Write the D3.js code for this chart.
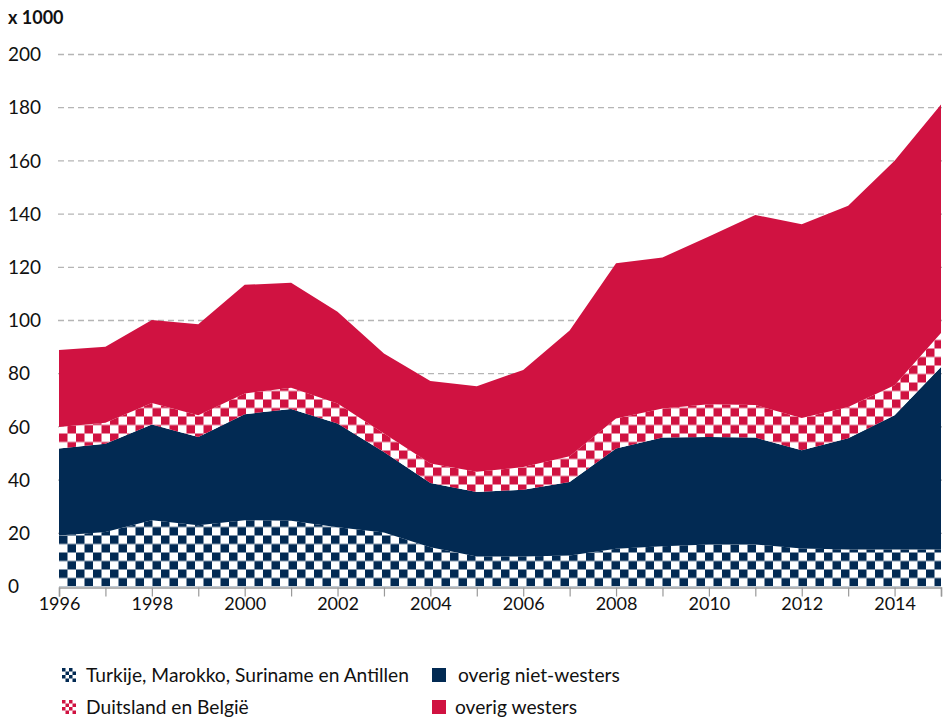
<!DOCTYPE html>
<html lang="nl">
<head>
<meta charset="UTF-8">
<title>Immigratie naar herkomst</title>
<script src="https://d3js.org/d3.v7.min.js"></script>
<style>
  body { margin: 0; background: #fff; }
  svg { display: block; font-family: Lato, "Open Sans", sans-serif; }
</style>
</head>
<body>
<div id="chart"></div>
<script>
// data (x 1000)
var years = [1996, 1997, 1998, 1999, 2000, 2001, 2002, 2003, 2004, 2005,
             2006, 2007, 2008, 2009, 2010, 2011, 2012, 2013, 2014, 2015];
var turkMarSurAnt = [19.2, 20.5, 24.9, 23.0, 24.9, 24.7, 22.3, 20.3, 14.8, 11.3,
                     11.3, 11.7, 14.2, 15.1, 15.8, 15.8, 14.3, 13.9, 13.9, 13.9];
var overigNietWesters = [32.7, 33.2, 36.0, 33.2, 39.9, 42.0, 39.0, 30.3, 24.1, 24.2,
                         25.1, 27.6, 37.7, 40.9, 40.4, 40.2, 36.9, 41.8, 50.5, 68.6];
var duitslandBelgie = [8.1, 7.9, 8.1, 8.2, 7.8, 8.0, 7.5, 6.9, 7.3, 7.6,
                       8.5, 9.7, 11.3, 10.9, 12.3, 12.2, 12.1, 11.8, 11.3, 12.8];
var overigWesters = [28.9, 28.5, 31.2, 34.2, 40.8, 39.5, 34.5, 30.1, 31.1, 32.2,
                     36.5, 47.2, 58.3, 56.8, 63.1, 71.5, 72.9, 75.6, 84.4, 85.9];
var yTicks = [0, 20, 40, 60, 80, 100, 120, 140, 160, 180, 200];
var xLabels = [1996, 1998, 2000, 2002, 2004, 2006, 2008, 2010, 2012, 2014];

var keys = ["tmsa", "nw", "db", "w"];
var labels = {
  tmsa: "Turkije, Marokko, Suriname en Antillen",
  nw: "overig niet-westers",
  db: "Duitsland en België",
  w: "overig westers"
};
var navy = "#022a53", red = "#d01241";

var rows = years.map(function(y, i) {
  return { year: y, tmsa: turkMarSurAnt[i], nw: overigNietWesters[i],
           db: duitslandBelgie[i], w: overigWesters[i] };
});

var W = 944, H = 719;
var plotL = 59, plotR = 941, plotT = 54.5, plotB = 586.5;

var svg = d3.select("#chart").append("svg")
  .attr("width", W).attr("height", H);

var defs = svg.append("defs");
function checker(id, color, cell, ox, oy) {
  var p = defs.append("pattern")
    .attr("id", id)
    .attr("patternUnits", "userSpaceOnUse")
    .attr("x", ox).attr("y", oy)
    .attr("width", cell * 2).attr("height", cell * 2);
  p.append("rect").attr("width", cell * 2).attr("height", cell * 2).attr("fill", "#fff");
  p.append("rect").attr("width", cell).attr("height", cell).attr("fill", color);
  p.append("rect").attr("x", cell).attr("y", cell).attr("width", cell).attr("height", cell).attr("fill", color);
}
checker("chkNavy", navy, 8.5, plotL, plotB);
checker("chkRed", red, 8.5, plotL, plotB);
checker("chkNavySm", navy, 3.5, 62, 668);
checker("chkRedSm", red, 3.5, 62, 700);

var fills = { tmsa: "url(#chkNavy)", nw: navy, db: "url(#chkRed)", w: red };
var swatch = { tmsa: "url(#chkNavySm)", nw: navy, db: "url(#chkRedSm)", w: red };

var x = d3.scaleLinear().domain([1996, 2015]).range([plotL, plotR]);
var y = d3.scaleLinear().domain([0, 200]).range([plotB, plotT]);

// grid
svg.append("g").selectAll("line")
  .data(yTicks.filter(function(d) { return d > 0; }))
  .enter().append("line")
  .attr("x1", plotL - 1).attr("x2", plotR + 1)
  .attr("y1", function(d) { return y(d); })
  .attr("y2", function(d) { return y(d); })
  .attr("stroke", "#b5b5b5")
  .attr("stroke-width", 1.3)
  .attr("stroke-dasharray", "6,4");

// y labels
svg.append("g").selectAll("text")
  .data(yTicks).enter().append("text")
  .attr("x", 8)
  .attr("y", function(d) { return y(d); })
  .attr("dy", "0.35em")
  .attr("font-size", 19)
  .attr("fill", "#111")
  .text(function(d) { return d; });

svg.append("text")
  .attr("x", 8).attr("y", 24)
  .attr("font-size", 18).attr("font-weight", "bold")
  .attr("fill", "#111")
  .text("x 1000");

// stacked areas
var series = d3.stack().keys(keys)(rows);
var area = d3.area()
  .x(function(d) { return x(d.data.year); })
  .y0(function(d) { return y(d[0]); })
  .y1(function(d) { return y(d[1]); });

svg.append("g").selectAll("path")
  .data(series).enter().append("path")
  .attr("d", area)
  .attr("fill", function(d) { return fills[d.key]; });

// x axis
var xAxis = d3.axisBottom(x)
  .tickValues(years)
  .tickSize(9)
  .tickPadding(1)
  .tickFormat(function(d) { return xLabels.indexOf(d) >= 0 ? d : ""; });
var gx = svg.append("g")
  .attr("transform", "translate(0," + (plotB + 1) + ")")
  .call(xAxis);
gx.select(".domain").attr("stroke", "#9a9a9a").attr("stroke-width", 1.5);
gx.selectAll(".tick line").attr("stroke", "#9a9a9a").attr("stroke-width", 1.2);
gx.selectAll(".tick text")
  .attr("font-family", "Lato, sans-serif")
  .attr("font-size", 18)
  .attr("fill", "#111");

// legend
var legendPos = [
  { key: "tmsa", x: 62, y: 668, tx: 86 },
  { key: "nw", x: 432, y: 668, tx: 458 },
  { key: "db", x: 62, y: 700, tx: 86 },
  { key: "w", x: 432, y: 700, tx: 455 }
];
var lg = svg.append("g").selectAll("g")
  .data(legendPos).enter().append("g");
lg.append("rect")
  .attr("x", function(d) { return d.x; })
  .attr("y", function(d) { return d.y; })
  .attr("width", 14).attr("height", 14)
  .attr("fill", function(d) { return swatch[d.key]; });
lg.append("text")
  .attr("x", function(d) { return d.tx; })
  .attr("y", function(d) { return d.y + 7; })
  .attr("dy", "0.35em")
  .attr("font-size", 19.2)
  .attr("fill", "#111")
  .text(function(d) { return labels[d.key]; });
</script>
</body>
</html>
